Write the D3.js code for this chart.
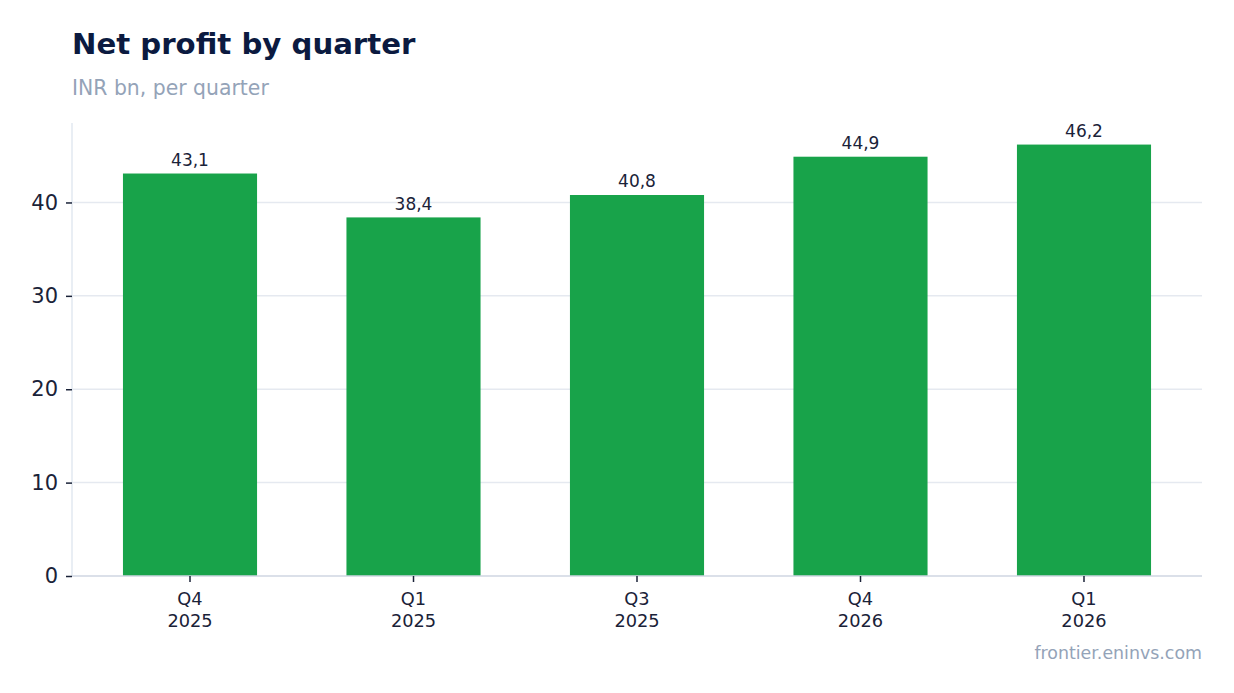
<!DOCTYPE html>
<html>
<head>
<meta charset="utf-8">
<script src="https://cdn.jsdelivr.net/npm/d3@7/dist/d3.min.js"></script>
<style>
  html, body { margin: 0; padding: 0; background: #ffffff; }
  svg { display: block; font-family: "DejaVu Sans", sans-serif; }
</style>
</head>
<body>
<svg id="chart" width="1234" height="693"></svg>
<script>
const quarters = ["Q4", "Q1", "Q3", "Q4", "Q1"];
const years = ["2025", "2025", "2025", "2026", "2026"];
const netProfit = [43.1, 38.4, 40.8, 44.9, 46.2];
const yTicks = [0, 10, 20, 30, 40];

const W = 1234, H = 693;
const margin = { left: 72, right: 32, top: 123, bottom: 117 };
const svg = d3.select("#chart");

const cats = quarters.map((q, i) => i);
const x = d3.scaleBand().domain(cats).range([margin.left, W - margin.right]).paddingInner(0.4).paddingOuter(0.228);
const y = d3.scaleLinear().domain([0, d3.max(netProfit) * 1.05]).range([H - margin.bottom, margin.top]);

// title
svg.append("text").attr("x", 72).attr("y", 54).attr("fill", "#0b1a40")
  .attr("font-size", 29.2).attr("font-weight", "bold").text("Net profit by quarter");
svg.append("text").attr("x", 72).attr("y", 95).attr("fill", "#94a3b8")
  .attr("font-size", 20.4).text("INR bn, per quarter");

// grid
svg.append("g").selectAll("line").data(yTicks.filter(d => d > 0)).join("line")
  .attr("x1", margin.left).attr("x2", W - margin.right)
  .attr("y1", d => y(d)).attr("y2", d => y(d))
  .attr("stroke", "#e5e9f0").attr("stroke-width", 1.5);

// bars
svg.append("g").selectAll("rect").data(netProfit).join("rect")
  .attr("x", (d, i) => x(i)).attr("width", x.bandwidth())
  .attr("y", d => y(d)).attr("height", d => y(0) - y(d))
  .attr("fill", "#18a34a");

// value labels
svg.append("g").selectAll("text").data(netProfit).join("text")
  .attr("x", (d, i) => x(i) + x.bandwidth() / 2).attr("y", d => y(d) - 7.5)
  .attr("text-anchor", "middle").attr("font-size", 17).attr("fill", "#1a2238")
  .text(d => d.toFixed(1).replace(".", ","));

// y axis
const yAxis = svg.append("g").attr("transform", `translate(${margin.left},0)`)
  .call(d3.axisLeft(y).tickValues(yTicks).tickSize(6).tickPadding(8));
yAxis.select(".domain").attr("stroke", "#e2e8f0").attr("stroke-width", 1.5)
  .attr("d", `M0,${y.range()[1]}V${y(0)}`);
yAxis.selectAll(".tick line").attr("stroke", "#1a2238").attr("stroke-width", 1.5);
yAxis.selectAll(".tick text").attr("font-size", 21).attr("fill", "#1a2238").attr("font-family", "DejaVu Sans");

// x axis
const xAxis = svg.append("g").attr("transform", `translate(0,${y(0)})`)
  .call(d3.axisBottom(x).tickSize(6).tickFormat(() => ""));
xAxis.select(".domain").attr("stroke", "#cfd6e2").attr("stroke-width", 1.5)
  .attr("d", `M${margin.left},0H${W - margin.right}`);
xAxis.selectAll(".tick line").attr("stroke", "#1a2238").attr("stroke-width", 1.5);
xAxis.selectAll(".tick text").each(function(d) {
  const t = d3.select(this).text(null).attr("font-size", 17.8).attr("fill", "#1a2238")
    .attr("font-family", "DejaVu Sans").attr("y", 0).attr("dy", null);
  t.append("tspan").attr("x", 0).attr("y", 29).text(quarters[d]);
  t.append("tspan").attr("x", 0).attr("y", 51).text(years[d]);
});

// footer
svg.append("text").attr("x", W - margin.right).attr("y", 659).attr("text-anchor", "end")
  .attr("font-size", 17.4).attr("fill", "#94a3b8").text("frontier.eninvs.com");
</script>
</body>
</html>
